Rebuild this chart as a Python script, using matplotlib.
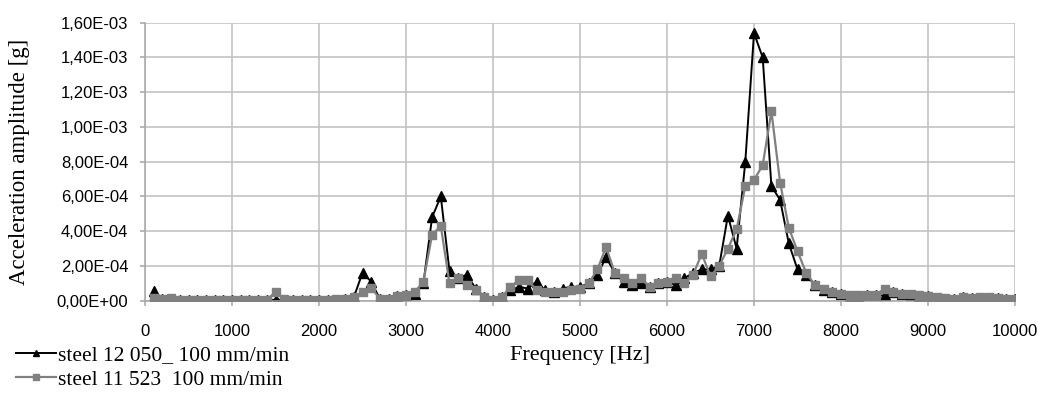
import matplotlib
matplotlib.use("Agg")
import matplotlib.pyplot as plt
from matplotlib.ticker import FuncFormatter, MultipleLocator

freq = list(range(100, 10001, 100))

# values in units of 1e-4 g
steel_12050 = [
    0.55, 0.10, 0.10, 0.05, 0.05, 0.05, 0.05, 0.05, 0.05, 0.05,   # 100-1000
    0.05, 0.05, 0.05, 0.05, 0.05, 0.05, 0.05, 0.05, 0.05, 0.05,   # 1100-2000
    0.05, 0.05, 0.10, 0.20, 1.60, 1.10, 0.10, 0.10, 0.25, 0.30,   # 2100-3000
    0.40, 1.00, 4.80, 6.00, 1.70, 1.30, 1.50, 0.70, 0.20, 0.05,   # 3100-4000
    0.20, 0.60, 0.80, 0.70, 1.10, 0.60, 0.50, 0.70, 0.80, 0.80,   # 4100-5000
    1.00, 1.50, 2.50, 1.60, 1.10, 0.90, 1.00, 0.80, 1.00, 1.10,   # 5100-6000
    0.90, 1.30, 1.60, 1.80, 1.80, 2.00, 4.90, 3.00, 8.00, 15.40,  # 6100-7000
    14.00, 6.60, 5.80, 3.30, 1.80, 1.50, 0.90, 0.60, 0.50, 0.40,  # 7100-8000
    0.20, 0.20, 0.30, 0.30, 0.30, 0.50, 0.40, 0.30, 0.20, 0.25,   # 8100-9000
    0.15, 0.10, 0.10, 0.20, 0.15, 0.15, 0.15, 0.15, 0.10, 0.10,   # 9100-10000
]
steel_11523 = [
    0.15, 0.10, 0.15, 0.05, 0.05, 0.05, 0.05, 0.05, 0.05, 0.05,
    0.05, 0.05, 0.05, 0.05, 0.50, 0.10, 0.05, 0.05, 0.05, 0.05,
    0.05, 0.10, 0.10, 0.20, 0.50, 0.75, 0.10, 0.10, 0.25, 0.30,
    0.50, 1.10, 3.80, 4.30, 1.00, 1.30, 0.90, 0.60, 0.20, 0.05,
    0.20, 0.80, 1.20, 1.20, 0.60, 0.50, 0.50, 0.50, 0.60, 0.70,
    1.00, 1.80, 3.10, 1.60, 1.30, 1.00, 1.30, 0.80, 1.00, 1.10,
    1.30, 1.00, 1.50, 2.70, 1.40, 2.00, 3.00, 4.10, 6.60, 6.95,
    7.80, 10.90, 6.80, 4.20, 2.85, 1.60, 0.90, 0.70, 0.50, 0.40,
    0.30, 0.30, 0.30, 0.30, 0.70, 0.50, 0.40, 0.40, 0.30, 0.25,
    0.20, 0.15, 0.10, 0.20, 0.15, 0.20, 0.20, 0.15, 0.10, 0.10,
]
labels = ["steel 12 050_ 100 mm/min", "steel 11 523  100 mm/min"]

y1 = [v * 1e-4 for v in steel_12050]
y2 = [v * 1e-4 for v in steel_11523]

fig = plt.figure(figsize=(10.42, 3.94), dpi=100)
ax = fig.add_axes([145 / 1042, 1 - 300.7 / 394, 870 / 1042, 278 / 394])

serif = "Liberation Serif"
sans = "Liberation Sans"

l1, = ax.plot(freq, y1, color="black", lw=1.4, marker="^", ms=6.8, zorder=2)
l2, = ax.plot(freq, y2, color="#808080", lw=1.6, marker="s", ms=6, zorder=3)

ax.set_xlim(0, 10000)
ax.set_ylim(0, 1.6e-3)
ax.xaxis.set_major_locator(MultipleLocator(1000))
ax.yaxis.set_major_locator(MultipleLocator(2e-4))

def yfmt(v, pos):
    s = "%.2E" % v
    if abs(v) < 1e-12:
        s = "0.00E+00"
    return s.replace(".", ",")

ax.yaxis.set_major_formatter(FuncFormatter(yfmt))
ax.xaxis.set_major_formatter(FuncFormatter(lambda v, p: "%d" % v))

ax.grid(True, color="#bfbfbf", lw=1.1)
ax.set_axisbelow(True)
for side in ["top", "right"]:
    ax.spines[side].set_visible(False)
for side in ["left", "bottom"]:
    ax.spines[side].set_color("#a6a6a6")
    ax.spines[side].set_linewidth(1.1)
ax.tick_params(axis="both", colors="#a6a6a6", length=3.6, width=1.1, direction="out",
               labelcolor="black", labelsize=12)
ax.tick_params(axis="y", pad=8.5)
ax.tick_params(axis="x", pad=13)
for t in ax.get_xticklabels() + ax.get_yticklabels():
    t.set_fontfamily(sans)

ax.set_xlabel("Frequency [Hz]", fontfamily=serif, fontsize=16)
ax.xaxis.set_label_coords(0.5, (300.7 - 346) / 278)
ax.set_ylabel("Acceleration amplitude [g]", fontfamily=serif, fontsize=16.5)
ax.yaxis.set_label_coords((30 - 145) / 870, 0.5)

fig.legend([l1, l2], labels, loc="upper left", bbox_to_anchor=(16 / 1042, 1 - 345 / 394),
           frameon=False, prop={"family": serif, "size": 15.5}, handlelength=1.85,
           handletextpad=0.1, labelspacing=0.22, borderaxespad=0, borderpad=0,
           markerscale=0.65)

fig.savefig("out.png", dpi=100)
